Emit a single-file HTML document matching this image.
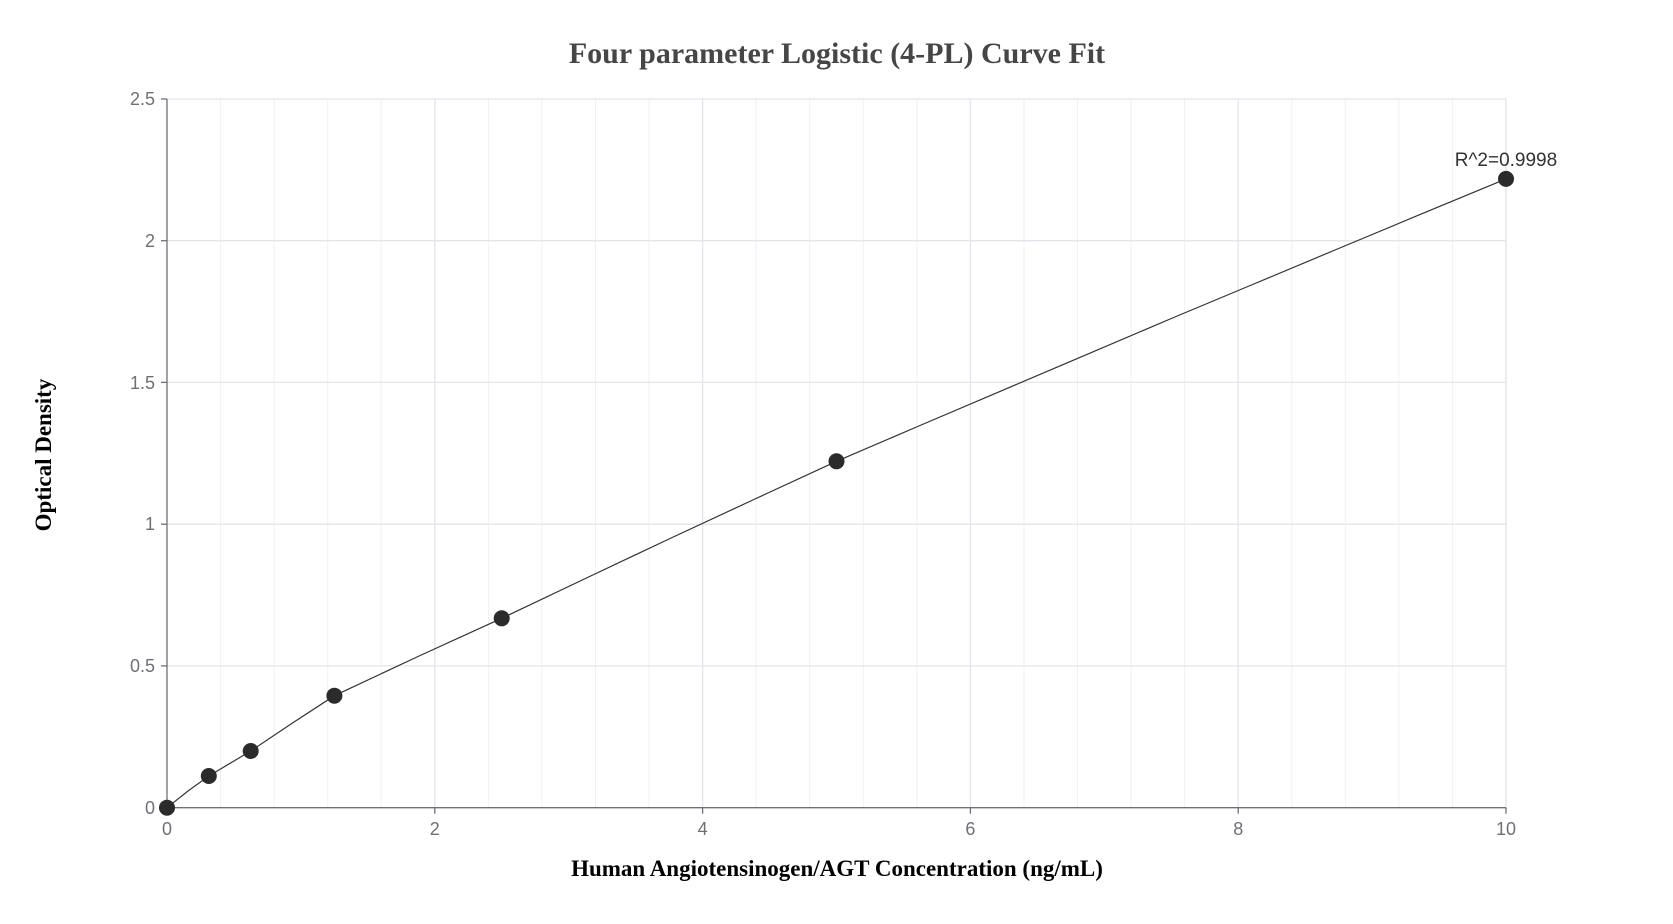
<!DOCTYPE html>
<html><head><meta charset="utf-8"><style>
html,body{margin:0;padding:0;background:#fff;}
svg{display:block;}
</style></head><body>
<svg width="1673" height="924" viewBox="0 0 1673 924" xmlns="http://www.w3.org/2000/svg">
<rect width="1673" height="924" fill="#fff"/>
<g stroke="#f0f1f5" stroke-width="1">
<line x1="220.6" y1="99" x2="220.6" y2="807.7"/><line x1="274.1" y1="99" x2="274.1" y2="807.7"/><line x1="327.7" y1="99" x2="327.7" y2="807.7"/><line x1="381.2" y1="99" x2="381.2" y2="807.7"/>
<line x1="488.4" y1="99" x2="488.4" y2="807.7"/><line x1="541.9" y1="99" x2="541.9" y2="807.7"/><line x1="595.5" y1="99" x2="595.5" y2="807.7"/><line x1="649" y1="99" x2="649" y2="807.7"/>
<line x1="756.2" y1="99" x2="756.2" y2="807.7"/><line x1="809.7" y1="99" x2="809.7" y2="807.7"/><line x1="863.3" y1="99" x2="863.3" y2="807.7"/><line x1="916.8" y1="99" x2="916.8" y2="807.7"/>
<line x1="1024" y1="99" x2="1024" y2="807.7"/><line x1="1077.5" y1="99" x2="1077.5" y2="807.7"/><line x1="1131.1" y1="99" x2="1131.1" y2="807.7"/><line x1="1184.6" y1="99" x2="1184.6" y2="807.7"/>
<line x1="1291.8" y1="99" x2="1291.8" y2="807.7"/><line x1="1345.3" y1="99" x2="1345.3" y2="807.7"/><line x1="1398.9" y1="99" x2="1398.9" y2="807.7"/><line x1="1452.4" y1="99" x2="1452.4" y2="807.7"/>
</g>
<g stroke="#e3e5ee" stroke-width="1.3">
<line x1="434.8" y1="99" x2="434.8" y2="807.7"/><line x1="702.6" y1="99" x2="702.6" y2="807.7"/><line x1="970.4" y1="99" x2="970.4" y2="807.7"/><line x1="1238.2" y1="99" x2="1238.2" y2="807.7"/><line x1="1506" y1="99" x2="1506" y2="807.7"/>
<line x1="167" y1="99" x2="1506" y2="99"/><line x1="167" y1="240.7" x2="1506" y2="240.7"/><line x1="167" y1="382.4" x2="1506" y2="382.4"/><line x1="167" y1="524.2" x2="1506" y2="524.2"/><line x1="167" y1="665.9" x2="1506" y2="665.9"/>
</g>
<g stroke="#6e7079" stroke-width="1.3">
<line x1="167" y1="99" x2="167" y2="807.7"/><line x1="167" y1="807.7" x2="1506" y2="807.7"/>
<line x1="161" y1="99" x2="167" y2="99"/><line x1="161" y1="240.7" x2="167" y2="240.7"/><line x1="161" y1="382.4" x2="167" y2="382.4"/><line x1="161" y1="524.2" x2="167" y2="524.2"/><line x1="161" y1="665.9" x2="167" y2="665.9"/><line x1="161" y1="807.7" x2="167" y2="807.7"/>
<line x1="167" y1="807.7" x2="167" y2="813.7"/><line x1="434.8" y1="807.7" x2="434.8" y2="813.7"/><line x1="702.6" y1="807.7" x2="702.6" y2="813.7"/><line x1="970.4" y1="807.7" x2="970.4" y2="813.7"/><line x1="1238.2" y1="807.7" x2="1238.2" y2="813.7"/><line x1="1506" y1="807.7" x2="1506" y2="813.7"/>
</g>
<g font-family="Liberation Sans, sans-serif" font-size="18" fill="#6e7079">
<g text-anchor="end">
<text x="155" y="105">2.5</text><text x="155" y="247">2</text><text x="155" y="389">1.5</text><text x="155" y="530">1</text><text x="155" y="672">0.5</text><text x="155" y="814">0</text>
</g>
<g text-anchor="middle">
<text x="167" y="835">0</text><text x="434.8" y="835">2</text><text x="702.6" y="835">4</text><text x="970.4" y="835">6</text><text x="1238.2" y="835">8</text><text x="1506" y="835">10</text>
</g>
</g>
<polyline fill="none" stroke="#333" stroke-width="1.2" points="167,807.7 188,791 208.8,776 250.7,751 292.5,723 334.4,695.7 418,656.5 501.7,618.3 585.4,578.5 669,539 752.8,500 836.5,461.3 920,425.5 1003.8,389.8 1087.5,354.2 1171.3,318.5 1255,283.5 1338.6,248.5 1422.3,213.6 1506,178.9"/>
<g fill="#2b2b2b">
<circle cx="167" cy="807.7" r="8"/><circle cx="208.8" cy="776" r="8"/><circle cx="250.7" cy="751" r="8"/><circle cx="334.4" cy="695.7" r="8"/><circle cx="501.7" cy="618.3" r="8"/><circle cx="836.5" cy="461.3" r="8"/><circle cx="1506" cy="178.9" r="8"/>
</g>
<text x="1506" y="166" text-anchor="middle" font-family="Liberation Sans, sans-serif" font-size="19" fill="#333">R^2=0.9998</text>
<text x="837" y="63" text-anchor="middle" font-family="Liberation Serif, serif" font-weight="bold" font-size="30" fill="#464646">Four parameter Logistic (4-PL) Curve Fit</text>
<text x="837" y="876" text-anchor="middle" font-family="Liberation Serif, serif" font-weight="bold" font-size="23" fill="#000">Human Angiotensinogen/AGT Concentration (ng/mL)</text>
<text transform="translate(51,455) rotate(-90)" text-anchor="middle" font-family="Liberation Serif, serif" font-weight="bold" font-size="23" fill="#000">Optical Density</text>
</svg>
</body></html>
